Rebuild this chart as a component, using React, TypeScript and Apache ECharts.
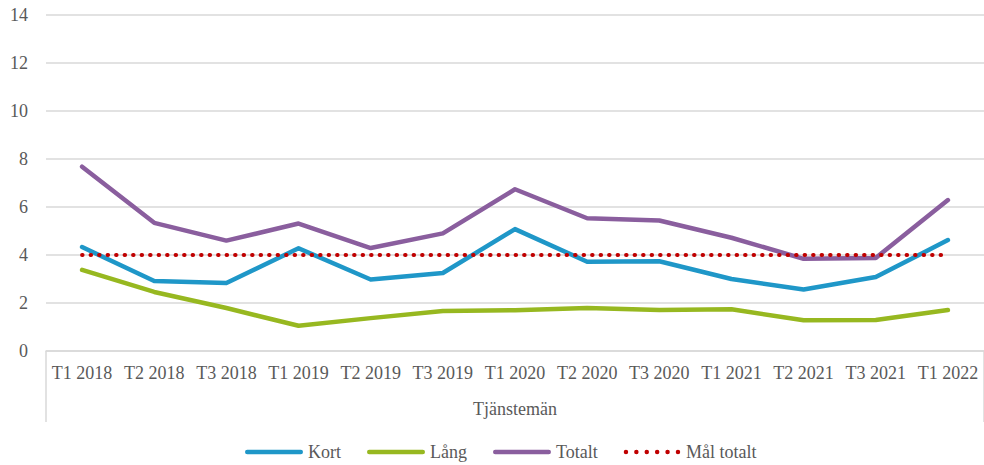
import React, { useEffect, useRef } from "react";
import * as echarts from "echarts";

const categories = [
  "T1 2018", "T2 2018", "T3 2018", "T1 2019", "T2 2019", "T3 2019", "T1 2020",
  "T2 2020", "T3 2020", "T1 2021", "T2 2021", "T3 2021", "T1 2022",
];
const groupLabel = ["Tjänstemän"];
const kort = [4.33, 2.92, 2.83, 4.28, 2.98, 3.25, 5.08, 3.72, 3.74, 3.0, 2.56, 3.08, 4.62];
const lang = [3.38, 2.46, 1.79, 1.05, 1.37, 1.67, 1.7, 1.79, 1.71, 1.74, 1.28, 1.29, 1.71];
const totalt = [7.68, 5.34, 4.6, 5.31, 4.29, 4.9, 6.74, 5.53, 5.44, 4.72, 3.84, 3.88, 6.29];
const malTotalt = [4, 4, 4, 4, 4, 4, 4, 4, 4, 4, 4, 4, 4];

const FONT = "Liberation Serif";
const TEXT = "#595959";
const GRID = "#d9d9d9";

const solidIcon = "path://M2.25,0H55.75A2.25,2.25,0,0,1,55.75,4.5H2.25A2.25,2.25,0,0,1,2.25,0Z";
const dotIcon = (() => {
  let d = "path://";
  for (let i = 0; i < 6; i++) {
    const cx = 3 + i * 10.4;
    d += `M${cx - 2.25},2.25a2.25,2.25 0 1,0 4.5,0a2.25,2.25 0 1,0 -4.5,0Z`;
  }
  return d;
})();

const legendText = { fontFamily: FONT, fontSize: 18, color: TEXT };

export default function App() {
  const ref = useRef<HTMLDivElement>(null);
  useEffect(() => {
    if (!ref.current) return;
    const chart = echarts.init(ref.current, null, { renderer: "svg" });
    const line = (name: string, data: number[], color: string, dotted = false) => ({
      name,
      type: "line",
      data,
      xAxisIndex: 0,
      symbol: "none",
      showSymbol: false,
      smooth: false,
      lineStyle: dotted
        ? { color, width: 4, type: [0.5, 8], cap: "round" }
        : { color, width: 4.5, cap: "round", join: "round" },
      itemStyle: { color },
      z: dotted ? 3 : 2,
    });
    chart.setOption({
      animation: false,
      textStyle: { fontFamily: FONT, color: TEXT },
      grid: { left: 46, right: -2, top: 15, bottom: 114, containLabel: false },
      legend: {
        top: 438,
        left: 240,
        itemWidth: 58,
        itemHeight: 4.5,
        itemGap: 26,
        textStyle: legendText,
        data: [
          { name: "Kort", icon: solidIcon, textStyle: legendText },
          { name: "Lång", icon: solidIcon, textStyle: legendText },
          { name: "Totalt", icon: solidIcon, textStyle: legendText },
          { name: "Mål totalt", icon: dotIcon, textStyle: legendText },
        ],
      },
      xAxis: [
        {
          type: "category",
          data: categories,
          boundaryGap: true,
          axisLine: { show: true, lineStyle: { color: GRID, width: 1.5 } },
          axisTick: { show: false },
          axisLabel: { fontFamily: FONT, fontSize: 18, color: TEXT, margin: 13, interval: 0 },
        },
        {
          type: "category",
          data: groupLabel,
          position: "bottom",
          boundaryGap: true,
          axisLine: { show: false },
          axisTick: { show: true, length: 71, lineStyle: { color: GRID, width: 1.5 } },
          axisLabel: { fontFamily: FONT, fontSize: 18, color: TEXT, margin: 49 },
        },
      ],
      yAxis: {
        type: "value",
        min: 0,
        max: 14,
        interval: 2,
        axisLine: { show: false },
        axisTick: { show: false },
        splitLine: { lineStyle: { color: GRID, width: 1.5 } },
        axisLabel: { fontFamily: FONT, fontSize: 18, color: TEXT, margin: 18 },
      },
      series: [
        line("Kort", kort, "#1f97c8"),
        line("Lång", lang, "#97b820"),
        line("Totalt", totalt, "#8a5e9e"),
        line("Mål totalt", malTotalt, "#c00000", true),
      ],
    });
    return () => chart.dispose();
  }, []);
  return (
    <div
      ref={ref}
      style={{ position: "fixed", left: 0, top: 0, width: 984, height: 465, background: "#fff" }}
    />
  );
}
